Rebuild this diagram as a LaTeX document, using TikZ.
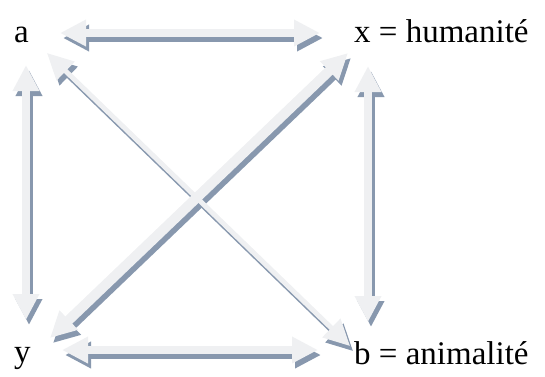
\documentclass[tikz,border=0pt]{standalone}
\usepackage{fontspec}
\setmainfont{Liberation Serif}
\usetikzlibrary{arrows.meta}
\definecolor{arrlight}{RGB}{239,240,242}
\definecolor{arrdark}{RGB}{136,152,174}
\tikzset{
  lbl/.style={anchor=base west, inner sep=0pt, font=\fontsize{33}{38}\selectfont},
  bodyarr/.style={line width=#1, {Triangle[width=25pt,length=26pt]}-{Triangle[width=25pt,length=26pt]}},
  shadowarr/.style={bodyarr=#1, draw=arrdark, transform canvas={xshift=3pt,yshift=-5pt}},
  lightarr/.style={bodyarr=#1, draw=arrlight},
}
\begin{document}
\begin{tikzpicture}[x=1pt,y=-1pt]
\useasboundingbox (0,0) rectangle (545,376);
\node[lbl] (a) at (14,42) {a};
\node[lbl] (x) at (354,42) {x = humanité};
\node[lbl] (y) at (14,362) {y};
\node[lbl] (b) at (354,364) {b = animalité};
% arrow end points
\coordinate (aR) at (60,33);
\coordinate (xL) at (320,33);
\coordinate (yR) at (62,350);
\coordinate (bL) at (318,350);
\coordinate (aD) at (26,65);
\coordinate (yU) at (26,320);
\coordinate (xD) at (368,66);
\coordinate (bU) at (368,322);
\coordinate (xDL) at (348,53);
\coordinate (yUR) at (50,338);
\coordinate (aDR) at (47,53);
\coordinate (bUL) at (350,346);
% shadows
\draw[shadowarr=8pt] (aR) -- (xL);
\draw[shadowarr=8pt] (yR) -- (bL);
\draw[shadowarr=8pt] (aD) -- (yU);
\draw[shadowarr=8pt] (xD) -- (bU);
\draw[shadowarr=10pt] (xDL) -- (yUR);
\draw[shadowarr=5pt] (aDR) -- (bUL);
% bodies
\draw[lightarr=8pt] (aR) -- (xL);
\draw[lightarr=8pt] (yR) -- (bL);
\draw[lightarr=8pt] (aD) -- (yU);
\draw[lightarr=8pt] (xD) -- (bU);
\draw[lightarr=10pt] (xDL) -- (yUR);
\draw[lightarr=5pt] (aDR) -- (bUL);
\end{tikzpicture}
\end{document}
